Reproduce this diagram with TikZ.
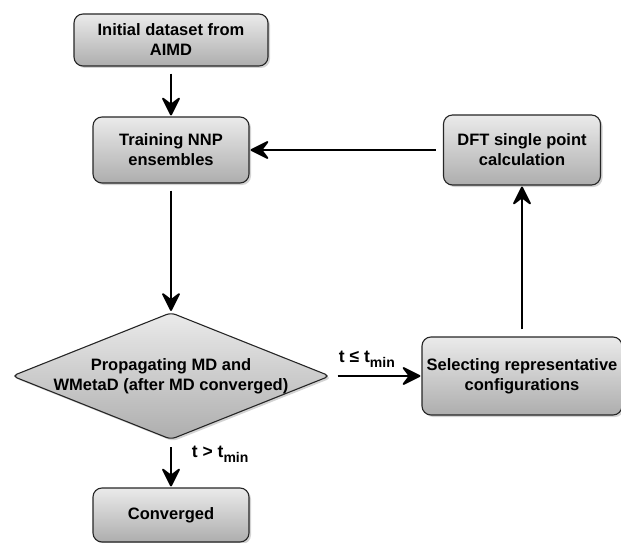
\documentclass[tikz,border=0pt]{standalone}
\usepackage{fontspec}
\setmainfont{Liberation Sans}
\usepackage{tikz}
\usetikzlibrary{shapes.geometric, arrows.meta, shadows}
\tikzstyle{process} = [rectangle, rounded corners=9pt, text centered, align=center, draw=black!85, line width=1.1pt, top color=black!8, bottom color=black!32, drop shadow={shadow xshift=2pt, shadow yshift=-2pt, opacity=0.35}, font=\fontsize{16.5}{20}\selectfont\bfseries]
\tikzstyle{decision} = [diamond, aspect=2.5, rounded corners=5pt, inner xsep=-12pt, inner ysep=0pt, minimum width=318pt, minimum height=127pt, text centered, align=center, draw=black!85, line width=1.1pt, top color=black!8, bottom color=black!32, drop shadow={shadow xshift=2pt, shadow yshift=-2pt, opacity=0.35}, font=\fontsize{16.5}{20}\selectfont\bfseries]
\tikzset{arrow/.style={line width=1.8pt, -{Stealth[length=21pt, width=21pt, inset=8pt, round=false]}, shorten <=7pt, shorten >=1pt}}
\tikzstyle{cond} = [font=\fontsize{17.5}{20}\selectfont\bfseries, inner sep=2pt]
\newcommand{\tsub}[1]{\raisebox{-0.45ex}{\fontsize{14}{14}\selectfont #1}}

\begin{document}
\begin{tikzpicture}[node distance = 110pt]
	\useasboundingbox (0,0) rectangle (621pt,542pt);
	\node (init) [process, minimum width=194pt, minimum height=52pt] at (171pt,502pt) {Initial dataset from\\AIMD};
	\node (train) [process, minimum width=156pt, minimum height=66pt, below of=init] {Training NNP\\ensembles};
	\node (prop) [decision, node distance=226pt, below of=train] {Propagating MD and\\WMetaD (after MD converged)};
	\node (conv) [process, minimum width=156pt, minimum height=54pt, node distance=139pt, below of=prop] {Converged};
	\node (sel) [process, minimum width=200pt, minimum height=78pt, node distance=351pt, right of=prop] {Selecting representative\\configurations};
	\node (dft) [process, minimum width=157pt, minimum height=70pt, node distance=226pt, above of=sel] {DFT single point\\calculation};
	\draw [arrow] (init) -- (train);
	\draw [arrow] (train) -- (prop);
	\draw [arrow] (prop) -- node[cond, above=6pt, pos=0.4] {t ≤ t\tsub{min}} (sel);
	\draw [arrow] (sel) -- (dft);
	\draw [arrow] (dft) -- (train);
	\draw [arrow] (prop) -- node[cond, right=18pt, pos=0.3] {t > t\tsub{min}} (conv);
\end{tikzpicture}
\end{document}
